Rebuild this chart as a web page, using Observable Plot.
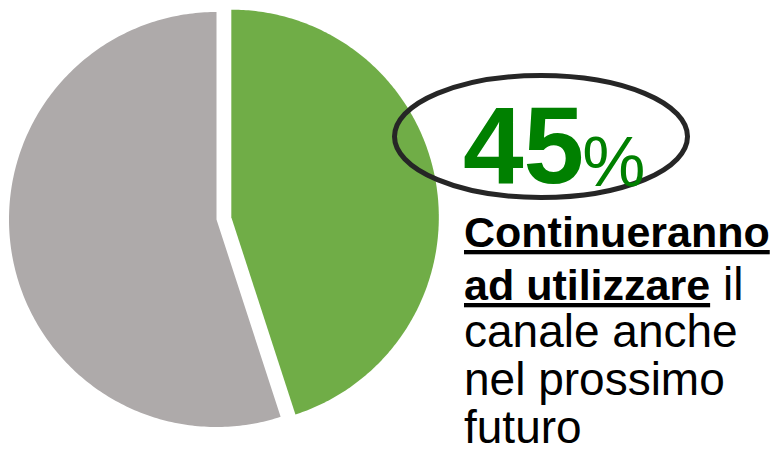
<!DOCTYPE html>
<html>
<head>
<meta charset="utf-8">
<script src="https://cdn.jsdelivr.net/npm/d3@7"></script>
<script src="https://cdn.jsdelivr.net/npm/@observablehq/plot@0.6"></script>
<style>
  html, body { margin: 0; padding: 0; background: #fff; }
  #chart { width: 776px; height: 454px; }
</style>
</head>
<body>
<div id="chart"></div>
<script>
// --- data ---
const categories = ["Continueranno ad utilizzare", "Altro"];
const values = [45, 55];
const colors = ["#70AD47", "#AEAAAA"];
const explode = [15, 0];
const highlightLabel = "45";
const highlightUnit = "%";
const boldLines = ["Continueranno", "ad utilizzare"];
const regularLines = [" il", "canale anche", "nel prossimo", "futuro"];

// --- layout ---
const W = 776, H = 454;
const cx = 216, cy = 219, R = 207.5;

// build slice outlines from the pie layout
const arcs = d3.pie().sort(null).value(d => d)(values);
const pts = [];
arcs.forEach((a, i) => {
  const mid = (a.startAngle + a.endAngle) / 2;
  const ox = cx + explode[i] * Math.sin(mid);
  const oy = cy - explode[i] * Math.cos(mid);
  pts.push({cat: categories[i], x: ox, y: oy});
  const n = 240;
  for (let k = 0; k <= n; k++) {
    const t = a.startAngle + (a.endAngle - a.startAngle) * k / n;
    pts.push({cat: categories[i], x: ox + R * Math.sin(t), y: oy - R * Math.cos(t)});
  }
  pts.push({cat: categories[i], x: ox, y: oy});
});

const chart = Plot.plot({
  width: W,
  height: H,
  margin: 0,
  x: {type: "linear", domain: [0, W], range: [0, W], axis: null},
  y: {type: "linear", domain: [0, H], range: [0, H], axis: null},
  color: {domain: categories, range: colors},
  marks: [
    Plot.line(pts, {x: "x", y: "y", z: "cat", fill: "cat", stroke: "none", curve: "linear"})
  ]
});

const svg = d3.select(chart);
const g = svg.append("g")
  .attr("text-anchor", "start")
  .style("text-anchor", "start")
  .style("font-family", "'Liberation Sans', Arial, sans-serif");

// highlight ellipse
g.append("ellipse")
  .attr("cx", 541).attr("cy", 136.5)
  .attr("rx", 146.5).attr("ry", 61)
  .attr("fill", "none")
  .attr("stroke", "#262626")
  .attr("stroke-width", 5);

// big percentage
const big = g.append("text")
  .attr("x", 463).attr("y", 183)
  .attr("fill", "#008000");
big.append("tspan").attr("font-size", 109).attr("font-weight", "bold").text(highlightLabel);
big.append("tspan").attr("font-size", 71).attr("dy", 3).attr("dx", -2).text(highlightUnit);

// description
const t1 = g.append("text").attr("x", 464).attr("y", 247).attr("fill", "#000");
t1.append("tspan").attr("font-size", 43).attr("font-weight", "bold")
  .style("text-decoration", "underline").text(boldLines[0]);

const t2 = g.append("text").attr("x", 464).attr("y", 300).attr("fill", "#000");
t2.append("tspan").attr("font-size", 43).attr("font-weight", "bold")
  .style("text-decoration", "underline").text(boldLines[1]);
t2.append("tspan").attr("font-size", 46).style("white-space", "pre").text(regularLines[0]);

const ys = [347, 395, 443];
regularLines.slice(1).forEach((s, i) => {
  g.append("text").attr("x", 464).attr("y", ys[i])
    .attr("font-size", 46).attr("fill", "#000").text(s);
});

document.getElementById("chart").appendChild(chart);
</script>
</body>
</html>
